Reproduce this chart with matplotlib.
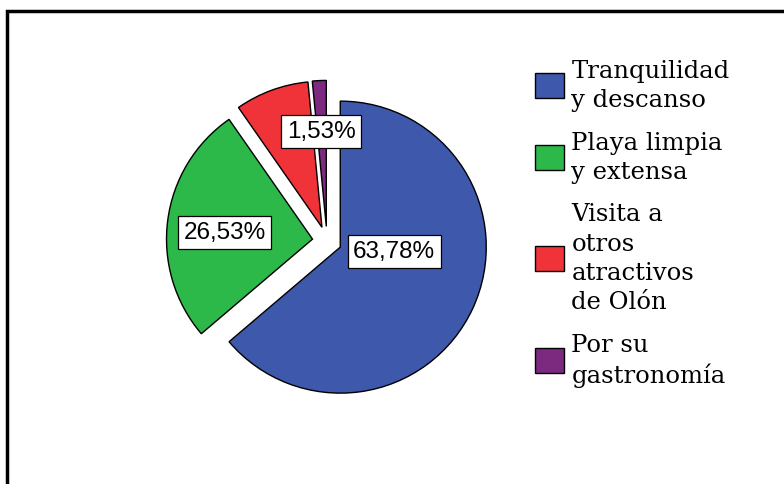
import matplotlib.pyplot as plt
from matplotlib.patches import Rectangle

# motivos de visita
categorias = ["Tranquilidad\ny descanso", "Playa limpia\ny extensa",
              "Visita a\notros\natractivos\nde Olón", "Por su\ngastronomía"]
porcentajes = [63.78, 26.53, 8.16, 1.53]
colores = ["#3e58ac", "#2db84a", "#ef3339", "#7b2a80"]

# etiquetas visibles (indice de la porcion, posicion del cuadro)
etiquetas = [(0, (0.46, -0.07)), (1, (-0.70, 0.06)), (3, (-0.04, 0.75))]

W, H = 784, 485
fig = plt.figure(figsize=(W / 100, H / 100), dpi=100)

# marco exterior
fig.patches.append(Rectangle((7 / W, -0.1), 1.2, (H - 12) / H + 0.1,
                             transform=fig.transFigure, fill=False,
                             edgecolor="black", linewidth=2.5))

cx, cy, r = 327, 242, 146
lim = 1.3
size = 2 * lim * r
ax = fig.add_axes([(cx - size / 2) / W, (H - cy - size / 2) / H, size / W, size / H])

wedges, _ = ax.pie(porcentajes, colors=colores, startangle=90, counterclock=False,
                   explode=[0.1] * len(porcentajes),
                   wedgeprops=dict(edgecolor="black", linewidth=1.0))
ax.set_xlim(-lim, lim)
ax.set_ylim(-lim, lim)
ax.axis("off")

for i, (x, y) in etiquetas:
    txt = f"{porcentajes[i]:.2f}%".replace(".", ",")
    ax.text(x, y, txt, ha="center", va="center", fontsize=17.5,
            family="Liberation Sans",
            bbox=dict(boxstyle="square,pad=0.22", facecolor="white",
                      edgecolor="black", linewidth=0.9))

leg = fig.legend(handles=wedges, labels=categorias, loc="upper left",
                 bbox_to_anchor=(535 / W, 1 - 60 / H), frameon=False,
                 prop=dict(family="DejaVu Serif", size=17.5),
                 handlelength=1.2, handleheight=1.2, handletextpad=0.3,
                 labelspacing=0.8, borderpad=0, borderaxespad=0)
for t in leg.get_texts():
    t.set_linespacing(1.35)

fig.savefig("out.png", dpi=100)
